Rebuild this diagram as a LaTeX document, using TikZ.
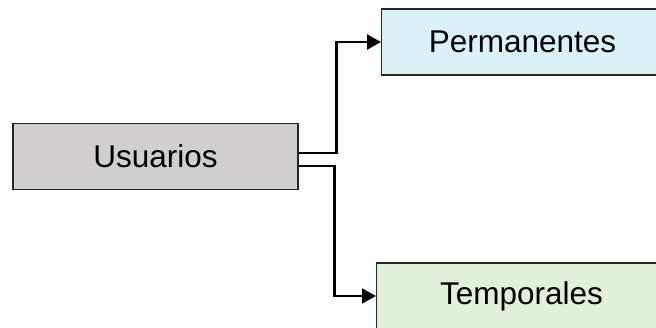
\documentclass[tikz,border=0pt]{standalone}
\usepackage{fontspec}
\setmainfont{Liberation Sans}
\usetikzlibrary{arrows.meta}
\definecolor{grayfill}{HTML}{D0CECE}
\definecolor{cyanfill}{HTML}{DAF2F7}
\definecolor{greenfill}{HTML}{E2EFD9}
\definecolor{edgegray}{HTML}{262626}
\tikzset{
  box/.style={draw=edgegray, line width=1.1pt, minimum height=66pt, inner sep=0pt,
    font=\fontsize{31.5}{36}\selectfont},
  link/.style={draw=black, line width=2.2pt,
    -{Triangle[length=14pt,width=15pt]}}
}
\begin{document}
\begin{tikzpicture}[x=1pt,y=-1pt]
\useasboundingbox (0,0) rectangle (656,327);
\clip (0,0) rectangle (656,327);
\node[box, fill=grayfill, minimum width=285pt] (u) at (155.5,156.3) {Usuarios};
\node[box, fill=cyanfill, minimum width=282pt, anchor=west] (p) at (381,42) {Permanentes};
\node[box, fill=greenfill, minimum width=290pt, anchor=west] (t) at (376,296) {Temporales};
\draw[link] ([yshift=3pt]u.east) -- ++(38,0) |- (p.west);
\draw[link] ([yshift=-9.4pt]u.east) -- ++(36,0) |- (t.west);
\end{tikzpicture}
\end{document}
